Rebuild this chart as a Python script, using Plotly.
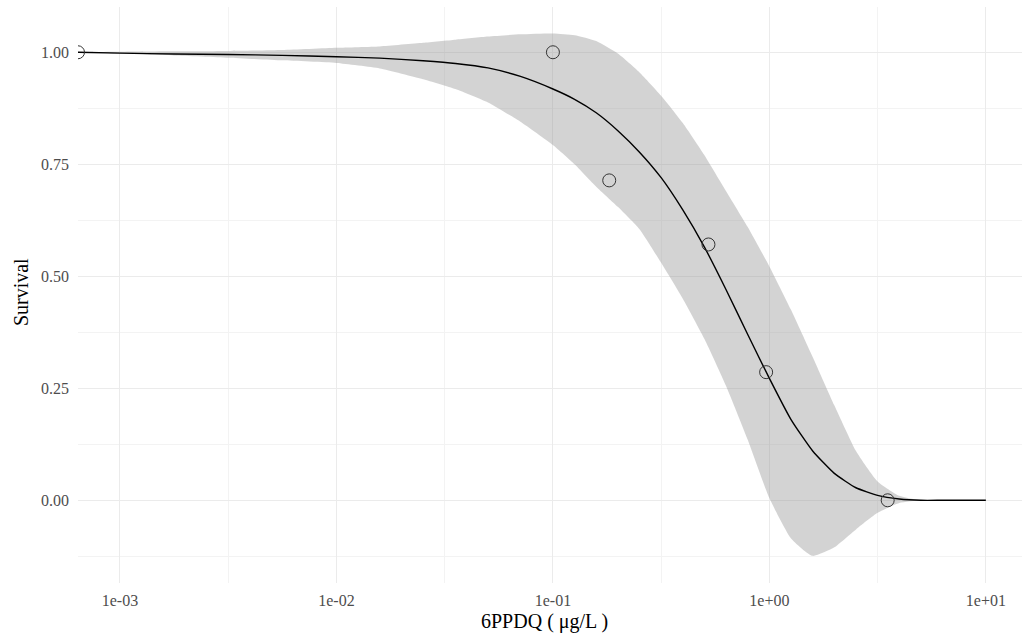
import numpy as np
import plotly.graph_objects as go

# ---- data ----
# observed survival (control at concentration 0 is drawn at the left edge)
obs_conc = [0.0, 0.1, 0.182, 0.523, 0.966, 3.52]
obs_surv = [1.0, 1.0, 0.714, 0.571, 0.286, 0.0]

# fitted curve and confidence band, sampled along x (log10 positions)
fit_log10x = [-3.194, -3.0, -2.75, -2.5, -2.25, -2.0, -1.8, -1.6, -1.45, -1.3, -1.15,
              -1.0, -0.9, -0.8, -0.7, -0.6, -0.5, -0.4, -0.3, -0.2, -0.1, 0.0,
              0.1, 0.2, 0.3, 0.4, 0.5, 0.6, 0.7, 0.8, 1.0]
fit_mean = [1.0, 0.998, 0.996, 0.995, 0.993, 0.990, 0.987, 0.981, 0.975, 0.965, 0.946,
            0.918, 0.895, 0.865, 0.825, 0.777, 0.72, 0.648, 0.565, 0.47, 0.37, 0.272,
            0.18, 0.11, 0.06, 0.028, 0.011, 0.003, 0.0, 0.0, 0.0]
fit_upper = [1.0, 1.001, 1.002, 1.003, 1.005, 1.010, 1.013, 1.021, 1.028, 1.035, 1.040,
             1.042, 1.038, 1.025, 0.997, 0.955, 0.903, 0.842, 0.77, 0.69, 0.61, 0.522,
             0.425, 0.32, 0.212, 0.11, 0.042, 0.01, 0.0, 0.0, 0.0]
fit_lower = [1.0, 0.997, 0.993, 0.988, 0.982, 0.976, 0.964, 0.940, 0.918, 0.888, 0.845,
             0.793, 0.750, 0.70, 0.655, 0.605, 0.53, 0.45, 0.36, 0.255, 0.135, 0.005,
             -0.085, -0.124, -0.105, -0.065, -0.028, -0.006, 0.0, 0.0, 0.0]

x_tick_vals = [1e-3, 1e-2, 1e-1, 1e0, 1e1]
x_tick_text = ["1e-03", "1e-02", "1e-01", "1e+00", "1e+01"]
y_tick_vals = [0.0, 0.25, 0.5, 0.75, 1.0]
y_tick_text = ["0.00", "0.25", "0.50", "0.75", "1.00"]

x_range_log = [-3.194, 1.167]
y_range = [-0.1846, 1.101]

# ---- figure ----
fit_x = [10 ** v for v in fit_log10x]
left_edge = 10 ** x_range_log[0]
plot_conc = [c if c > 0 else left_edge for c in obs_conc]

fig = go.Figure()

fig.add_trace(go.Scatter(
    x=fit_x + fit_x[::-1],
    y=fit_upper + fit_lower[::-1],
    fill="toself",
    fillcolor="rgba(150,150,150,0.42)",
    line=dict(width=0, shape="spline", smoothing=0.5),
    mode="lines",
    hoverinfo="skip",
    showlegend=False,
))

fig.add_trace(go.Scatter(
    x=fit_x, y=fit_mean,
    mode="lines",
    line=dict(color="black", width=1.4, shape="spline", smoothing=0.5),
    showlegend=False,
))

fig.add_trace(go.Scatter(
    x=plot_conc, y=obs_surv,
    mode="markers",
    marker=dict(symbol="circle-open", size=13, color="#333333", line=dict(width=1)),
    showlegend=False,
    cliponaxis=True,
))

grid_major = "#EBEBEB"
grid_minor = "#F3F3F3"
tick_font = dict(family="Liberation Serif", size=16, color="#4D4D4D")

fig.update_layout(
    width=1022, height=643,
    margin=dict(l=78, r=0, t=7, b=60),
    paper_bgcolor="white",
    plot_bgcolor="white",
    showlegend=False,
    xaxis=dict(
        type="log",
        range=x_range_log,
        tickvals=x_tick_vals,
        ticktext=x_tick_text,
        tickfont=tick_font,
        showgrid=True, gridcolor=grid_major, gridwidth=1.3,
        zeroline=False, showline=False, ticks="",
        ticklabelstandoff=6,
        minor=dict(tickvals=[10 ** -2.5, 10 ** -1.5, 10 ** -0.5, 10 ** 0.5],
                   showgrid=True, gridcolor=grid_minor, gridwidth=0.8, ticks=""),
    ),
    yaxis=dict(
        range=y_range,
        tickvals=y_tick_vals,
        ticktext=y_tick_text,
        tickfont=tick_font,
        showgrid=True, gridcolor=grid_major, gridwidth=1.3,
        zeroline=False, showline=False, ticks="",
        ticklabelstandoff=8,
        minor=dict(tickvals=[-0.125, 0.125, 0.375, 0.625, 0.875],
                   showgrid=True, gridcolor=grid_minor, gridwidth=0.8, ticks=""),
    ),
    annotations=[
        dict(text="6PPDQ ( μg/L )", xref="paper", yref="paper",
             x=0.4947, y=-0.066, xanchor="center", yanchor="middle",
             showarrow=False, font=dict(family="Liberation Serif", size=20, color="black")),
        dict(text="Survival", xref="paper", yref="paper",
             x=-0.0604, y=0.505, xanchor="center", yanchor="middle", textangle=-90,
             showarrow=False, font=dict(family="Liberation Serif", size=20, color="black")),
    ],
)

fig.write_html("out.html")
